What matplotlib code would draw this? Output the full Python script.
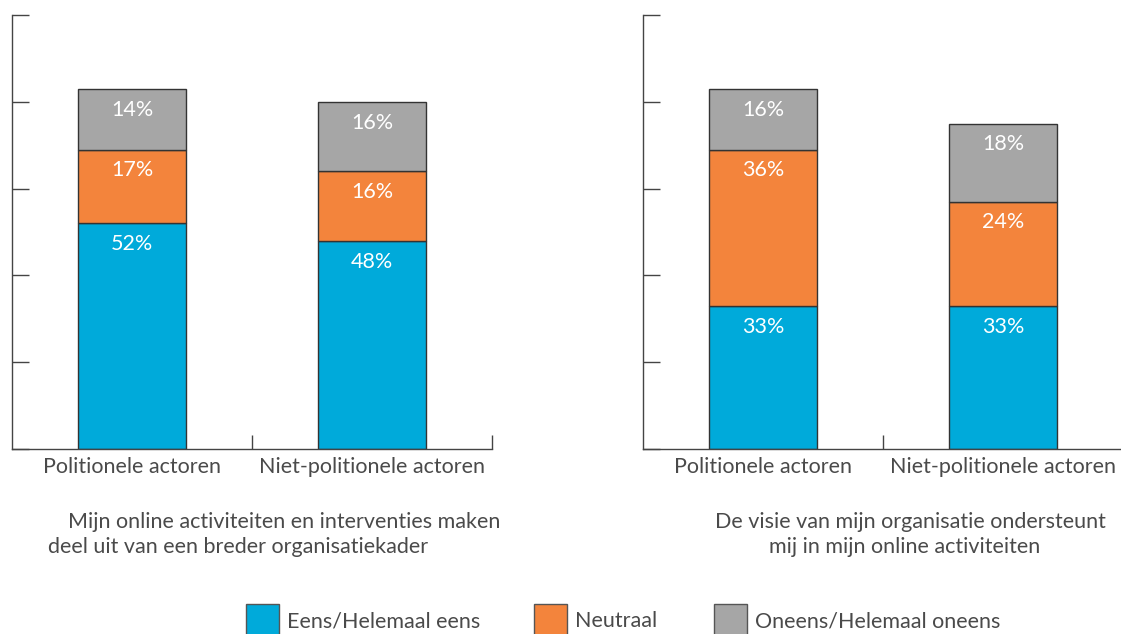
import matplotlib.pyplot as plt
from matplotlib.patches import Rectangle

plt.rcParams["font.family"] = ["Lato", "DejaVu Sans"]

categories = ["Politionele actoren", "Niet-politionele actoren"]
series = ["Eens/Helemaal eens", "Neutraal", "Oneens/Helemaal oneens"]
colors = ["#00aada", "#f3843c", "#a6a6a6"]

# left panel
left_eens = [52, 48]
left_neutraal = [17, 16]
left_oneens = [14, 16]
left_title = ["Mijn online activiteiten en interventies maken",
              "deel uit van een breder organisatiekader"]

# right panel (grey of first bar is drawn shorter than its 16% label)
right_eens = [33, 33]
right_neutraal = [36, 24]
right_oneens = [14, 18]
right_oneens_labels = [16, 18]
right_title = ["De visie van mijn organisatie ondersteunt",
               "mij in mijn online activiteiten"]

text_col = "#4a4a4a"
axis_col = "#444444"
fs = 15.5

fig = plt.figure(figsize=(11.21, 6.34), dpi=100)
W, H = 1121, 634


def draw_panel(ax, stacks, labels):
	x = range(len(categories))
	bottom = [0] * len(categories)
	for vals, labs, col in zip(stacks, labels, colors):
		bars = ax.bar(x, vals, 0.45, bottom=bottom, color=col,
			edgecolor="#333333", linewidth=1)
		for b, lab in zip(bars, labs):
			ax.annotate(f"{lab}%", (b.get_x() + b.get_width() / 2, b.get_y() + b.get_height()),
				xytext=(0, -15), textcoords="offset points", ha="center", va="center",
				color="white", fontsize=fs)
		bottom = [b + v for b, v in zip(bottom, vals)]
	ax.set_xlim(-0.5, 1.5)
	ax.set_ylim(0, 100)
	ax.set_yticks([0, 20, 40, 60, 80, 100])
	ax.set_yticklabels([])
	ax.tick_params(axis="y", direction="in", length=12, color=axis_col, width=1)
	ax.set_xticks([0, 1])
	ax.set_xticklabels(categories, fontsize=fs, color=text_col)
	ax.set_xticks([0.5, 1.5], minor=True)
	ax.tick_params(axis="x", which="major", length=0, pad=6)
	ax.tick_params(axis="x", which="minor", direction="in", length=10, color=axis_col, width=1)
	for s in ["top", "right"]:
		ax.spines[s].set_visible(False)
	for s in ["left", "bottom"]:
		ax.spines[s].set_color(axis_col)
		ax.spines[s].set_linewidth(1)


ax1 = fig.add_axes([12 / W, (H - 449) / H, 480 / W, 434 / H])
draw_panel(ax1, [left_eens, left_neutraal, left_oneens],
	[left_eens, left_neutraal, left_oneens])

ax2 = fig.add_axes([643 / W, (H - 449) / H, 480 / W, 434 / H])
draw_panel(ax2, [right_eens, right_neutraal, right_oneens],
	[right_eens, right_neutraal, right_oneens_labels])

# titles under the panels
for line, (x0, y0) in zip(left_title, [(68, 522), (48, 547)]):
	fig.text(x0 / W, 1 - y0 / H, line, ha="left", va="center", fontsize=fs, color=text_col)
for line, (x0, y0) in zip(right_title, [(715, 522), (769, 547)]):
	fig.text(x0 / W, 1 - y0 / H, line, ha="left", va="center", fontsize=fs, color=text_col)

# legend
for name, col, x0 in zip(series, colors, [246, 534, 714]):
	fig.add_artist(Rectangle((x0 / W, 1 - 640 / H), 33 / W, 36 / H,
		transform=fig.transFigure, facecolor=col, edgecolor="#555555", linewidth=1))
	fig.text((x0 + 41) / W, 1 - 621 / H, name, ha="left", va="center",
		fontsize=fs, color=text_col)

fig.savefig("out.png", dpi=100)
